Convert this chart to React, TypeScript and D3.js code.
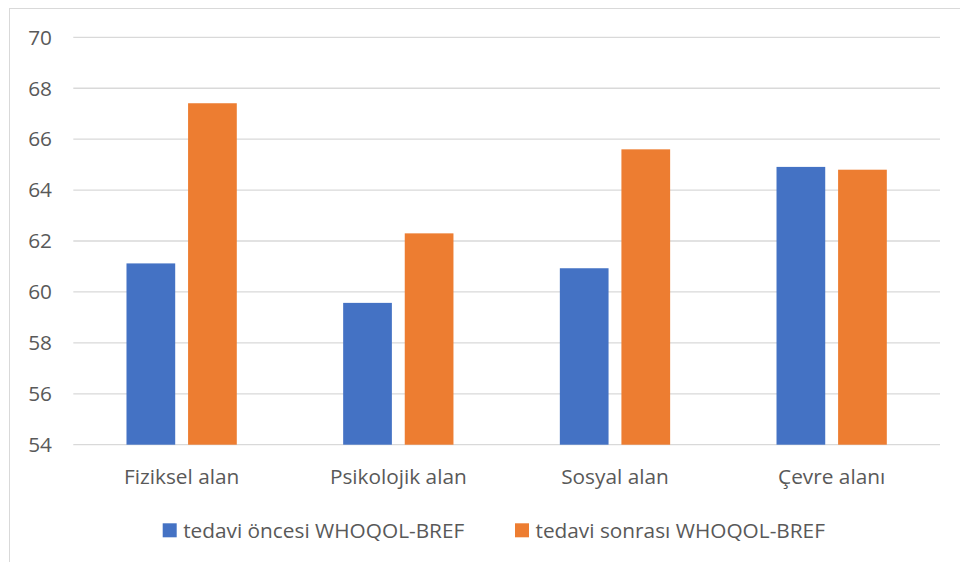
import React from "react";
import * as d3 from "d3";

const categories = ["Fiziksel alan", "Psikolojik alan", "Sosyal alan", "Çevre alanı"];
const seriesNames = ["tedavi öncesi WHOQOL-BREF", "tedavi sonrası WHOQOL-BREF"];
const before = [61.12, 59.57, 60.93, 64.91];
const after = [67.41, 62.3, 65.6, 64.8];
const yTicks = [54, 56, 58, 60, 62, 64, 66, 68, 70];
const colors = ["#4472C4", "#ED7D31"];

const W = 960;
const H = 562;
const FONT = "'Open Sans', 'Noto Sans', sans-serif";
const FS = 20.8;

export default function App() {
  const left = 73.3;
  const right = 940;
  const top = 37.3;
  const bottom = 444.7;

  const x0 = d3.scaleBand<string>().domain(categories).range([left, right]).padding(0);
  const groupW = 110.3;
  const x1 = d3
    .scaleBand<string>()
    .domain(seriesNames)
    .range([-groupW / 2, groupW / 2])
    .paddingInner(0.209)
    .paddingOuter(0);
  const y = d3.scaleLinear().domain([54, 70]).range([bottom, top]);

  const seriesValues = [before, after];

  return (
    <svg
      width={W}
      height={H}
      style={{ position: "absolute", left: 0, top: 0, display: "block", background: "#fff" }}
    >
      <rect x={9.5} y={8.5} width={W} height={H} fill="#fff" stroke="#d9d9d9" strokeWidth={1} />
      {yTicks.map((t) => (
        <g key={t}>
          <line x1={left} x2={right} y1={y(t)} y2={y(t)} stroke="#d9d9d9" strokeWidth={1.3} />
          <text
            x={52}
            y={y(t)}
            dy="0.35em"
            textAnchor="end"
            fill="#595959"
            fontFamily={FONT}
            fontSize={FS}
          >
            {t}
          </text>
        </g>
      ))}
      {categories.map((c, i) => {
        const cx = (x0(c) as number) + x0.bandwidth() / 2;
        return (
          <g key={c}>
            {seriesNames.map((s, j) => {
              const v = seriesValues[j][i];
              return (
                <rect
                  key={s}
                  x={cx + (x1(s) as number)}
                  y={y(v)}
                  width={x1.bandwidth()}
                  height={y(54) - y(v)}
                  fill={colors[j]}
                />
              );
            })}
            <text
              x={cx}
              y={483.5}
              textAnchor="middle"
              fill="#595959"
              fontFamily={FONT}
              fontSize={FS}
            >
              {c}
            </text>
          </g>
        );
      })}
      {seriesNames.map((s, j) => {
        const lx = j === 0 ? 162.7 : 515;
        return (
          <g key={s}>
            <rect x={lx} y={523.3} width={14} height={14} fill={colors[j]} />
            <text x={lx + 20.5} y={537.5} fill="#595959" fontFamily={FONT} fontSize={FS}>
              {s}
            </text>
          </g>
        );
      })}
    </svg>
  );
}
